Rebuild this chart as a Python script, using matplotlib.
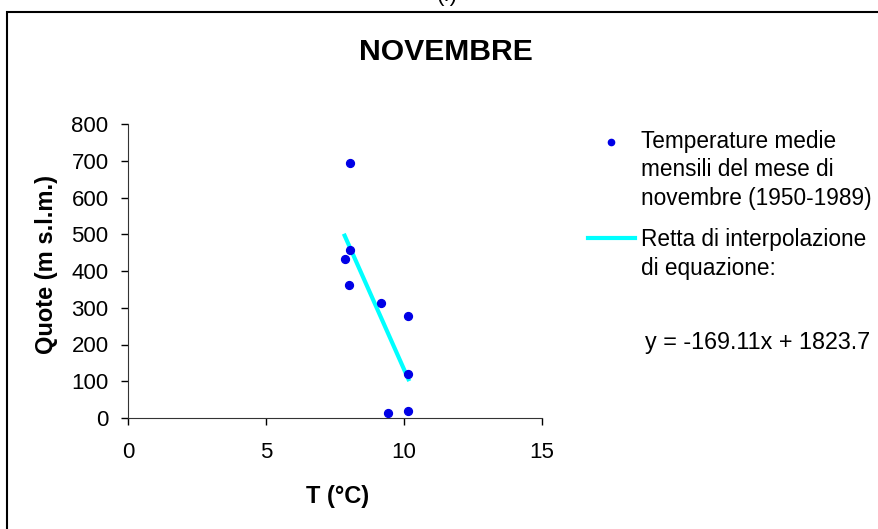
import numpy as np
import matplotlib
matplotlib.use("Agg")
import matplotlib.pyplot as plt
from matplotlib.patches import Rectangle
from matplotlib.lines import Line2D

# data: mean November temperatures vs altitude
temp = [8.04, 8.04, 7.85, 7.99, 9.17, 10.16, 10.16, 9.43, 10.16]
quote = [694, 456, 432, 362, 312, 278, 119, 14, 19]
slope = -169.11
intercept = 1823.7

x_ticks = [0, 5, 10, 15]
y_ticks = [0, 100, 200, 300, 400, 500, 600, 700, 800]

pts_label = ["Temperature medie", "mensili del mese di", "novembre (1950-1989)"]
fit_label = ["Retta di interpolazione", "di equazione:"]
eq_label = "y = -169.11x + 1823.7"

plt.rcParams["font.family"] = ["Liberation Sans", "DejaVu Sans"]

W, H = 879, 529
fig = plt.figure(figsize=(W / 100, H / 100), dpi=100)
ax = fig.add_axes([128 / W, 1 - 418 / H, 414 / W, 294 / H])


def fx(px):
    return px / W


def fy(py):
    return 1 - py / H


# outer frame (cut off on the right and bottom)
fig.patches.append(
    Rectangle((fx(7), -0.05), 1.2, fy(12) + 0.05, transform=fig.transFigure,
              fill=False, edgecolor="black", linewidth=1.5)
)
fig.text(fx(447), fy(1), "(f)", ha="center", va="baseline", fontsize=16)

# fit line over the range of the data
x_fit = np.array([min(temp), max(temp)])
y_fit = slope * x_fit + intercept

ax.scatter(temp, quote, s=32, color="#0000e6", zorder=3)
ax.plot(x_fit, y_fit, color="#00ffff", linewidth=3)

ax.set_xlim(0, 15)
ax.set_ylim(0, 800)
ax.set_xticks(x_ticks)
ax.set_yticks(y_ticks)
ax.tick_params(direction="out", length=5, width=1, labelsize=16)
ax.tick_params(axis="x", pad=12)
ax.tick_params(axis="y", pad=9)
for s in ["top", "right"]:
    ax.spines[s].set_visible(False)
for s in ["left", "bottom"]:
    ax.spines[s].set_color("#333333")

ax.set_xlabel("T (°C)", fontsize=17, fontweight="bold")
ax.xaxis.set_label_coords((338 - 128) / 414, -(485 - 418) / 294)
ax.set_ylabel("Quote (m s.l.m.)", fontsize=17, fontweight="bold")
ax.yaxis.set_label_coords(-(128 - 58) / 414, (418 - 264) / 294)

fig.text(fx(446), fy(52), "NOVEMBRE", ha="center", va="center",
         fontsize=21.7, fontweight="bold")

# legend, drawn like the spreadsheet one: symbol next to the first line
fig.lines.append(Line2D([fx(611)], [fy(142)], transform=fig.transFigure,
                        marker="o", markersize=4.5, color="#0000e6", linestyle="none"))
fig.lines.append(Line2D([fx(588), fx(635)], [fy(238), fy(238)], transform=fig.transFigure,
                        color="#00ffff", linewidth=3))
for i, line in enumerate(pts_label):
    fig.text(fx(641), fy(148 + 28.5 * i), line, ha="left", va="baseline", fontsize=16.3)
for i, line in enumerate(fit_label):
    fig.text(fx(641), fy(246 + 28.5 * i), line, ha="left", va="baseline", fontsize=16.3)

fig.text(fx(645), fy(342), eq_label, ha="left", va="center", fontsize=16.8)

fig.savefig("out.png", dpi=100)
